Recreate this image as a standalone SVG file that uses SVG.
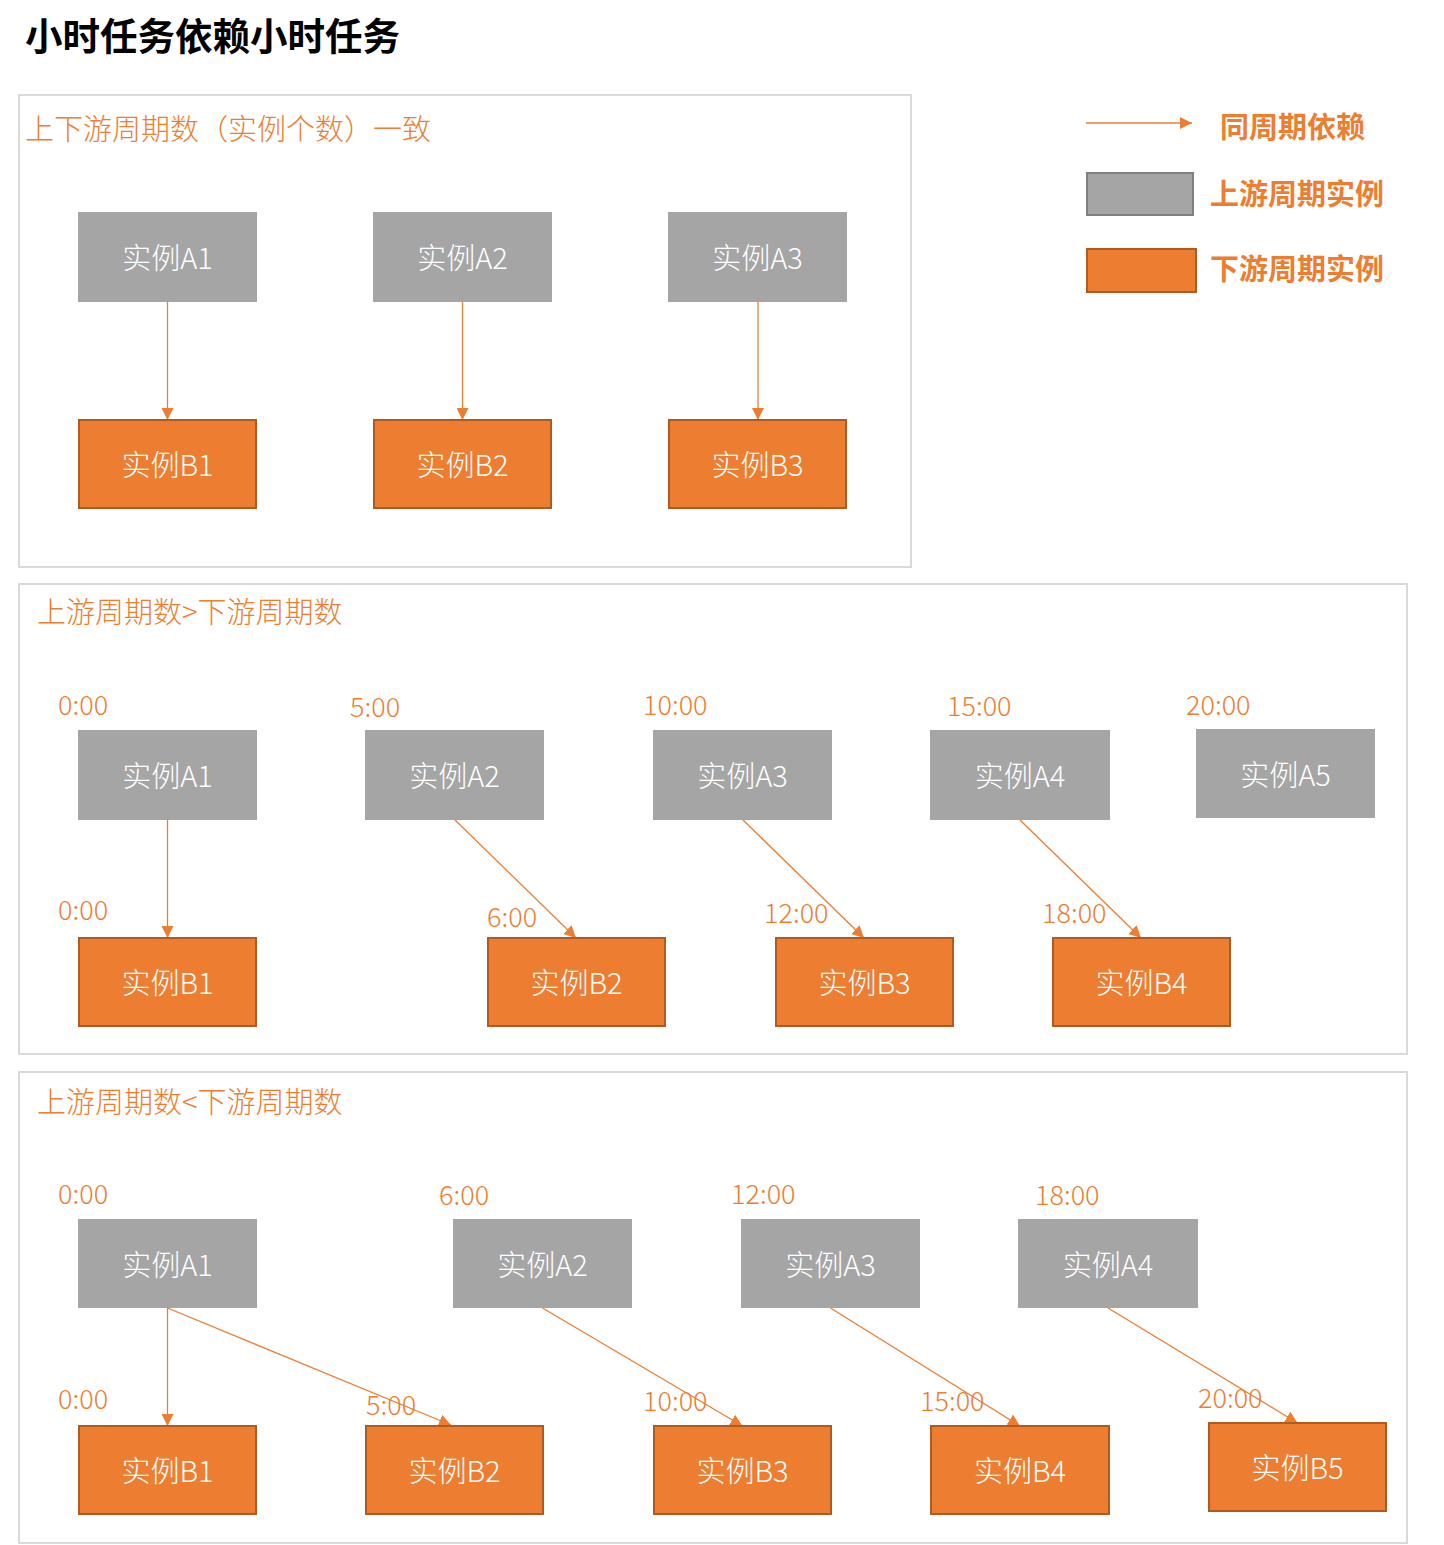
<svg xmlns="http://www.w3.org/2000/svg" width="1444" height="1545" viewBox="0 0 1444 1545">
<style>
text{font-family:"Noto Sans CJK SC","Liberation Sans",sans-serif}
.title{font-size:37.5px;font-weight:bold;fill:#000}
.panel{fill:#fff;stroke:#d9d9d9;stroke-width:2}
.plabel{font-size:29px;fill:#ED7D31;font-weight:300}
.t{font-size:27px;fill:#ED7D31;font-weight:300}
.up{fill:#A5A5A5}
.down{fill:#ED7D31;stroke:#AE5A21;stroke-width:2}
.bt{font-size:29px;fill:#fff;text-anchor:middle;dominant-baseline:central;font-weight:300}
.lg{font-size:29px;fill:#ED7D31;font-weight:bold}
.c{stroke:#ED7D31;stroke-width:1.3;fill:none;marker-end:url(#ah)}
</style>
<defs>
<marker id="ah" markerUnits="userSpaceOnUse" markerWidth="12" markerHeight="12" viewBox="0 0 12 12" refX="12" refY="6" orient="auto">
<path d="M0,0 L12,6 L0,12 Z" fill="#ED7D31"/>
</marker>
</defs>
<rect width="1444" height="1545" fill="#fff"/>
<text class="title" x="25" y="50">小时任务依赖小时任务</text>

<g id="panel1">
<rect class="panel" x="19" y="95" width="892" height="472"/>
<text class="plabel" x="25" y="140">上下游周期数（实例个数）一致</text>
</g>
<g id="panel2">
<rect class="panel" x="19" y="584" width="1388" height="470"/>
<text class="plabel" x="37" y="623">上游周期数&gt;下游周期数</text>
</g>
<g id="panel3">
<rect class="panel" x="19" y="1072" width="1388" height="471"/>
<text class="plabel" x="37" y="1113">上游周期数&lt;下游周期数</text>
</g>

<g id="legend">
<line x1="1086" y1="123" x2="1192" y2="123" stroke="#ED7D31" stroke-width="1.3" marker-end="url(#ah)"/>
<text class="lg" x="1220" y="138">同周期依赖</text>
<rect x="1087" y="173" width="106" height="42" fill="#A5A5A5" stroke="#7F7F7F" stroke-width="2"/>
<text class="lg" x="1210" y="205">上游周期实例</text>
<rect x="1087" y="249" width="109" height="43" class="down"/>
<text class="lg" x="1210" y="280">下游周期实例</text>
</g>

<g id="connectors">
<line class="c" x1="167.5" y1="302" x2="167.5" y2="420"/>
<line class="c" x1="462.5" y1="302" x2="462.5" y2="420"/>
<line class="c" x1="758" y1="302" x2="758" y2="420"/>

<line class="c" x1="167.5" y1="820" x2="167.5" y2="938"/>
<line class="c" x1="455" y1="820" x2="576" y2="938"/>
<line class="c" x1="743" y1="820" x2="864" y2="938"/>
<line class="c" x1="1020" y1="820" x2="1141" y2="938"/>

<line class="c" x1="167.5" y1="1308" x2="167.5" y2="1426"/>
<line class="c" x1="167.5" y1="1308" x2="451" y2="1425"/>
<line class="c" x1="542.5" y1="1308" x2="742.5" y2="1426"/>
<line class="c" x1="830.5" y1="1308" x2="1020" y2="1426"/>
<line class="c" x1="1108" y1="1308" x2="1297.5" y2="1423"/>
</g>

<!-- Panel 1 nodes -->
<g id="p1A1"><rect class="up" x="78" y="212" width="179" height="90"/><text class="bt" x="167.5" y="256">实例A1</text></g>
<g id="p1A2"><rect class="up" x="373" y="212" width="179" height="90"/><text class="bt" x="462.5" y="256">实例A2</text></g>
<g id="p1A3"><rect class="up" x="668" y="212" width="179" height="90"/><text class="bt" x="757.5" y="256">实例A3</text></g>
<g id="p1B1"><rect class="down" x="79" y="420" width="177" height="88"/><text class="bt" x="167.5" y="463">实例B1</text></g>
<g id="p1B2"><rect class="down" x="374" y="420" width="177" height="88"/><text class="bt" x="462.5" y="463">实例B2</text></g>
<g id="p1B3"><rect class="down" x="669" y="420" width="177" height="88"/><text class="bt" x="757.5" y="463">实例B3</text></g>

<!-- Panel 2 -->
<g id="p2times">
<text class="t" x="58" y="715">0:00</text>
<text class="t" x="350" y="717">5:00</text>
<text class="t" x="643" y="715">10:00</text>
<text class="t" x="947" y="716">15:00</text>
<text class="t" x="1186" y="715">20:00</text>
<text class="t" x="58" y="920">0:00</text>
<text class="t" x="487" y="927">6:00</text>
<text class="t" x="764" y="923">12:00</text>
<text class="t" x="1042" y="923">18:00</text>
</g>
<g id="p2A1"><rect class="up" x="78" y="730" width="179" height="90"/><text class="bt" x="167.5" y="774">实例A1</text></g>
<g id="p2A2"><rect class="up" x="365" y="730" width="179" height="90"/><text class="bt" x="454.5" y="774">实例A2</text></g>
<g id="p2A3"><rect class="up" x="653" y="730" width="179" height="90"/><text class="bt" x="742.5" y="774">实例A3</text></g>
<g id="p2A4"><rect class="up" x="930" y="730" width="180" height="90"/><text class="bt" x="1020" y="774">实例A4</text></g>
<g id="p2A5"><rect class="up" x="1196" y="729" width="179" height="89"/><text class="bt" x="1285.5" y="773">实例A5</text></g>
<g id="p2B1"><rect class="down" x="79" y="938" width="177" height="88"/><text class="bt" x="167.5" y="981">实例B1</text></g>
<g id="p2B2"><rect class="down" x="488" y="938" width="177" height="88"/><text class="bt" x="576.5" y="981">实例B2</text></g>
<g id="p2B3"><rect class="down" x="776" y="938" width="177" height="88"/><text class="bt" x="864.5" y="981">实例B3</text></g>
<g id="p2B4"><rect class="down" x="1053" y="938" width="177" height="88"/><text class="bt" x="1141.5" y="981">实例B4</text></g>

<!-- Panel 3 -->
<g id="p3times">
<text class="t" x="58" y="1204">0:00</text>
<text class="t" x="439" y="1205">6:00</text>
<text class="t" x="731" y="1204">12:00</text>
<text class="t" x="1035" y="1205">18:00</text>
<text class="t" x="58" y="1409">0:00</text>
<text class="t" x="366" y="1415">5:00</text>
<text class="t" x="643" y="1411">10:00</text>
<text class="t" x="920" y="1411">15:00</text>
<text class="t" x="1198" y="1408">20:00</text>
</g>
<g id="p3A1"><rect class="up" x="78" y="1219" width="179" height="89"/><text class="bt" x="167.5" y="1263">实例A1</text></g>
<g id="p3A2"><rect class="up" x="453" y="1219" width="179" height="89"/><text class="bt" x="542.5" y="1263">实例A2</text></g>
<g id="p3A3"><rect class="up" x="741" y="1219" width="179" height="89"/><text class="bt" x="830.5" y="1263">实例A3</text></g>
<g id="p3A4"><rect class="up" x="1018" y="1219" width="180" height="89"/><text class="bt" x="1108" y="1263">实例A4</text></g>
<g id="p3B1"><rect class="down" x="79" y="1426" width="177" height="88"/><text class="bt" x="167.5" y="1469">实例B1</text></g>
<g id="p3B2"><rect class="down" x="366" y="1426" width="177" height="88"/><text class="bt" x="454.5" y="1469">实例B2</text></g>
<g id="p3B3"><rect class="down" x="654" y="1426" width="177" height="88"/><text class="bt" x="742.5" y="1469">实例B3</text></g>
<g id="p3B4"><rect class="down" x="931" y="1426" width="178" height="88"/><text class="bt" x="1020" y="1469">实例B4</text></g>
<g id="p3B5"><rect class="down" x="1209" y="1423" width="177" height="88"/><text class="bt" x="1297.5" y="1466">实例B5</text></g>
</svg>
